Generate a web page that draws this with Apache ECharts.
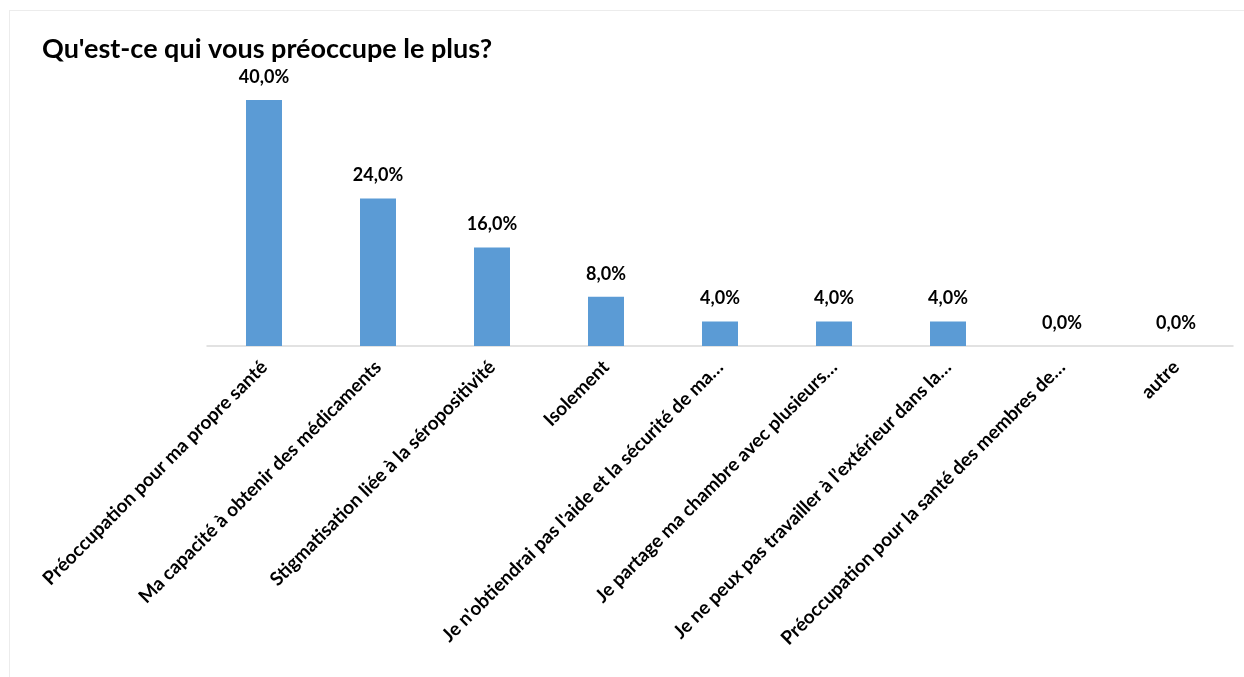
<!DOCTYPE html>
<html>
<head>
<meta charset="utf-8">
<script src="https://cdn.jsdelivr.net/npm/echarts@6/dist/echarts.min.js"></script>
<style>
  html, body { margin: 0; padding: 0; background: #fff; }
  #frame { position: absolute; left: 9px; top: 10px; width: 1240px; height: 670px; border-left: 1px solid #ececec; border-top: 1px solid #ececec; }
  #chart { width: 1244px; height: 677px; }
</style>
</head>
<body>
<div id="frame"></div>
<div id="chart"></div>
<script>
const titleText = "Qu'est-ce qui vous préoccupe le plus?";
const categories = [
  'Préoccupation pour ma propre santé',
  'Ma capacité à obtenir des médicaments',
  'Stigmatisation liée à la séropositivité',
  'Isolement',
  "Je n'obtiendrai pas l'aide et la sécurité de ma…",
  'Je partage ma chambre avec plusieurs…',
  'Je ne peux pas travailler à l’extérieur dans la…',
  'Préoccupation pour la santé des membres de…',
  'autre'
];
const percentages = [40, 24, 16, 8, 4, 4, 4, 0, 0];

const chart = echarts.init(document.getElementById('chart'));
const fontFamily = 'Lato, "Open Sans", sans-serif';

chart.setOption({
  animation: false,
  title: {
    text: titleText,
    left: 37,
    top: 31,
    textStyle: { fontFamily, fontSize: 27, fontWeight: 'bold', color: '#000' }
  },
  grid: { left: 207, right: 11, top: 100, bottom: 331, containLabel: false },
  xAxis: {
    type: 'category',
    data: categories,
    axisLine: { lineStyle: { color: '#d9d9d9', width: 1.5 } },
    axisTick: { show: false },
    axisLabel: {
      interval: 0,
      rotate: 45,
      margin: 18,
      fontFamily,
      fontSize: 19,
      fontWeight: 'bold',
      color: '#000'
    }
  },
  yAxis: {
    type: 'value',
    min: 0,
    max: 40,
    show: false,
    splitLine: { show: false }
  },
  series: [{
    type: 'bar',
    data: percentages,
    barWidth: 36,
    itemStyle: { color: '#5b9bd5' },
    label: {
      show: true,
      position: 'top',
      distance: 14,
      fontFamily,
      fontSize: 18,
      fontWeight: 'bold',
      color: '#000',
      formatter: p => p.value.toFixed(1).replace('.', ',') + '%'
    }
  }]
});
</script>
</body>
</html>
